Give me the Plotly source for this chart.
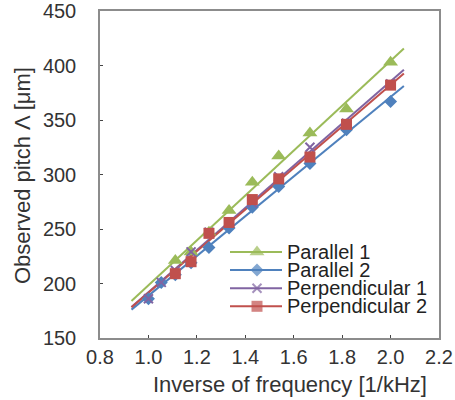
import numpy as np
import plotly.graph_objects as go

# ---- data ----
inv_freq = [1.0, 1.053, 1.111, 1.176, 1.25, 1.333, 1.429, 1.538, 1.667, 1.818, 2.0]
parallel_1 = [None, None, 221, 229, 247, 267, 293, 317, 338, 360, 403]
parallel_2 = [186, 201, 208, 219, 233, 251, 270, 289, 310, 341, 367]
perpendicular_1 = [186, 201, 212, 229, 247, 256, 274, 298, 325, 347, 383]
perpendicular_2 = [None, None, 209, 220, 246, 256, 277, 296, 316, 346, 382]
series_names = ["Parallel 1", "Parallel 2", "Perpendicular 1", "Perpendicular 2"]
trend_x = [0.93, 2.055]

series_vals = [parallel_1, parallel_2, perpendicular_1, perpendicular_2]
colors = ["#9BBB59", "#4F81BD", "#8064A2", "#C0504D"]
symbols = ["triangle-up", "diamond", "x-thin", "square"]
sizes = [13, 10, 9, 11]

FONT = "Arial, Liberation Sans, sans-serif"
fig = go.Figure()

for name, vals, c, s, sz in zip(series_names, series_vals, colors, symbols, sizes):
    xs = np.array([x for x, v in zip(inv_freq, vals) if v is not None])
    ys = np.array([v for v in vals if v is not None], dtype=float)
    k, b = np.polyfit(xs, ys, 1)
    tx = np.array(trend_x)
    fig.add_trace(go.Scatter(x=tx, y=k * tx + b, mode="lines",
                             line=dict(color=c, width=2), showlegend=False,
                             hoverinfo="skip"))
for name, vals, c, s, sz in zip(series_names, series_vals, colors, symbols, sizes):
    fig.add_trace(go.Scatter(x=inv_freq, y=vals, mode="markers", name=name,
                             marker=dict(symbol=s, size=sz, color=c,
                                         line=dict(color=c, width=2) if s == "x-thin" else dict(width=0)),
                             showlegend=False))

# plot area in page pixels
L, R, T, B = 100, 439, 11, 338
W, H = 455, 400
def px(p):
    return (p - L) / (R - L)
def py(p):
    return (B - p) / (B - T)

row0, row_gap = 252, 18.1
for i, (name, c, s, sz) in enumerate(zip(series_names, colors, symbols, sizes)):
    yy = py(row0 + i * row_gap)
    fig.add_trace(go.Scatter(x=[px(230), px(257), px(282)], y=[yy, yy, yy],
                             mode="lines+markers", xaxis="x2", yaxis="y2",
                             line=dict(color=c, width=2),
                             marker=dict(symbol=s, size=[0, sz, 0], color=c,
                                         line=dict(color=c, width=2) if s == "x-thin" else dict(width=0)),
                             showlegend=False, hoverinfo="skip"))
    fig.add_annotation(x=px(285), y=yy, xref="x2", yref="y2", text=name,
                       showarrow=False, xanchor="left", yanchor="middle",
                       font=dict(family=FONT, size=20, color="#222"))

axis_common = dict(showline=True, linecolor="#8c8c8c", linewidth=1.5, mirror=True,
                   ticks="inside", ticklen=3, tickcolor="#444", showgrid=False,
                   zeroline=False, automargin=False,
                   tickfont=dict(family=FONT, size=20, color="#333"))
fig.update_layout(
    width=W, height=H,
    margin=dict(l=L, r=W - R, t=T, b=H - B, autoexpand=False),
    paper_bgcolor="white", plot_bgcolor="white",
    showlegend=False,
    xaxis=dict(range=[0.8, 2.2], dtick=0.2, tick0=0.8, tickformat=".1f", **axis_common),
    yaxis=dict(range=[150, 450], dtick=50, ticklabelstandoff=18, **axis_common),
    xaxis2=dict(range=[0, 1], overlaying="x", visible=False, anchor="y2"),
    yaxis2=dict(range=[0, 1], overlaying="y", visible=False, anchor="x2"),
)
fig.add_annotation(x=px(290), y=py(384), xref="paper", yref="paper",
                   text="Inverse of frequency [1/kHz]", showarrow=False,
                   xanchor="center", yanchor="middle",
                   font=dict(family=FONT, size=22, color="#333"))
fig.add_annotation(x=px(22), y=py(176), xref="paper", yref="paper",
                   text="Observed pitch Λ [μm]", textangle=-90, showarrow=False,
                   xanchor="center", yanchor="middle",
                   font=dict(family=FONT, size=22, color="#333"))

fig.write_html("out.html", config={"displayModeBar": False},
               post_script="document.body.style.margin='0';document.body.style.overflow='hidden';")
